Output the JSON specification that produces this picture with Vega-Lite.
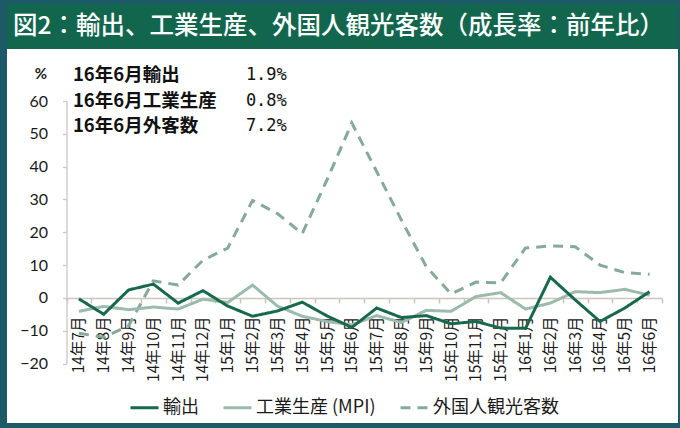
{
  "$schema": "https://vega.github.io/schema/vega-lite/v6.json",
  "background": "#1c5a68",
  "padding": {"left": 0, "top": 4, "right": 5, "bottom": 5},
  "spacing": 0,
  "config": {"view": {"stroke": null}},
  "resolve": {"legend": {"color": "independent", "strokeDash": "independent"}},
  "vconcat": [
    {
      "width": 671,
      "height": 45,
      "view": {"fill": "#13664e", "stroke": null},
      "data": {"values": [{"heading": "図2：輸出、工業生産、外国人観光客数（成長率：前年比）"}]},
      "mark": {"type": "text", "align": "left", "baseline": "middle", "dx": 6, "color": "white", "font": "Noto Sans CJK JP", "fontSize": 24.5, "fontWeight": 500},
      "encoding": {
        "x": {"datum": 0, "type": "quantitative", "scale": {"domain": [0, 1]}, "axis": null},
        "y": {"datum": 0.5, "type": "quantitative", "scale": {"domain": [0, 1]}, "axis": null},
        "text": {"field": "heading", "type": "nominal"}
      }
    },
    {
      "width": 671,
      "height": 374,
      "view": {"fill": "white", "stroke": null},
      "layer": [
        {
          "data": {
            "values": [
              {"month": "14年7月", "series": "外国人観光客数", "value": -10.8},
              {"month": "14年8月", "series": "外国人観光客数", "value": -12},
              {"month": "14年9月", "series": "外国人観光客数", "value": -8.5},
              {"month": "14年10月", "series": "外国人観光客数", "value": 5.2},
              {"month": "14年11月", "series": "外国人観光客数", "value": 3.9},
              {"month": "14年12月", "series": "外国人観光客数", "value": 11.5},
              {"month": "15年1月", "series": "外国人観光客数", "value": 15.2},
              {"month": "15年2月", "series": "外国人観光客数", "value": 29.7},
              {"month": "15年3月", "series": "外国人観光客数", "value": 25.7},
              {"month": "15年4月", "series": "外国人観光客数", "value": 19.6},
              {"month": "15年5月", "series": "外国人観光客数", "value": 36},
              {"month": "15年6月", "series": "外国人観光客数", "value": 53.3},
              {"month": "15年7月", "series": "外国人観光客数", "value": 38.5},
              {"month": "15年8月", "series": "外国人観光客数", "value": 23.7},
              {"month": "15年9月", "series": "外国人観光客数", "value": 9.5},
              {"month": "15年10月", "series": "外国人観光客数", "value": 1.2},
              {"month": "15年11月", "series": "外国人観光客数", "value": 4.8},
              {"month": "15年12月", "series": "外国人観光客数", "value": 4.6},
              {"month": "16年1月", "series": "外国人観光客数", "value": 15.2},
              {"month": "16年2月", "series": "外国人観光客数", "value": 15.8},
              {"month": "16年3月", "series": "外国人観光客数", "value": 15.6},
              {"month": "16年4月", "series": "外国人観光客数", "value": 10},
              {"month": "16年5月", "series": "外国人観光客数", "value": 7.7},
              {"month": "16年6月", "series": "外国人観光客数", "value": 7.2},
              {"month": "14年7月", "series": "工業生産 (MPI)", "value": -4.1},
              {"month": "14年8月", "series": "工業生産 (MPI)", "value": -2.6},
              {"month": "14年9月", "series": "工業生産 (MPI)", "value": -3.6},
              {"month": "14年10月", "series": "工業生産 (MPI)", "value": -2.8},
              {"month": "14年11月", "series": "工業生産 (MPI)", "value": -3.4},
              {"month": "14年12月", "series": "工業生産 (MPI)", "value": -0.4},
              {"month": "15年1月", "series": "工業生産 (MPI)", "value": -1.4},
              {"month": "15年2月", "series": "工業生産 (MPI)", "value": 3.9},
              {"month": "15年3月", "series": "工業生産 (MPI)", "value": -2.5},
              {"month": "15年4月", "series": "工業生産 (MPI)", "value": -5.6},
              {"month": "15年5月", "series": "工業生産 (MPI)", "value": -7.2},
              {"month": "15年6月", "series": "工業生産 (MPI)", "value": -8.2},
              {"month": "15年7月", "series": "工業生産 (MPI)", "value": -5.4},
              {"month": "15年8月", "series": "工業生産 (MPI)", "value": -7.5},
              {"month": "15年9月", "series": "工業生産 (MPI)", "value": -3.8},
              {"month": "15年10月", "series": "工業生産 (MPI)", "value": -4.1},
              {"month": "15年11月", "series": "工業生産 (MPI)", "value": 0.4},
              {"month": "15年12月", "series": "工業生産 (MPI)", "value": 1.6},
              {"month": "16年1月", "series": "工業生産 (MPI)", "value": -3.4},
              {"month": "16年2月", "series": "工業生産 (MPI)", "value": -1.6},
              {"month": "16年3月", "series": "工業生産 (MPI)", "value": 1.9},
              {"month": "16年4月", "series": "工業生産 (MPI)", "value": 1.6},
              {"month": "16年5月", "series": "工業生産 (MPI)", "value": 2.6},
              {"month": "16年6月", "series": "工業生産 (MPI)", "value": 0.8},
              {"month": "14年7月", "series": "輸出", "value": -0.3},
              {"month": "14年8月", "series": "輸出", "value": -5},
              {"month": "14年9月", "series": "輸出", "value": 2.4},
              {"month": "14年10月", "series": "輸出", "value": 4.2},
              {"month": "14年11月", "series": "輸出", "value": -1.6},
              {"month": "14年12月", "series": "輸出", "value": 2.2},
              {"month": "15年1月", "series": "輸出", "value": -2.5},
              {"month": "15年2月", "series": "輸出", "value": -5.6},
              {"month": "15年3月", "series": "輸出", "value": -4},
              {"month": "15年4月", "series": "輸出", "value": -1.3},
              {"month": "15年5月", "series": "輸出", "value": -5.5},
              {"month": "15年6月", "series": "輸出", "value": -9},
              {"month": "15年7月", "series": "輸出", "value": -3.1},
              {"month": "15年8月", "series": "輸出", "value": -6},
              {"month": "15年9月", "series": "輸出", "value": -5.4},
              {"month": "15年10月", "series": "輸出", "value": -7.9},
              {"month": "15年11月", "series": "輸出", "value": -7.2},
              {"month": "15年12月", "series": "輸出", "value": -9.2},
              {"month": "16年1月", "series": "輸出", "value": -9.3},
              {"month": "16年2月", "series": "輸出", "value": 6.3},
              {"month": "16年3月", "series": "輸出", "value": -0.6},
              {"month": "16年4月", "series": "輸出", "value": -7.2},
              {"month": "16年5月", "series": "輸出", "value": -3.1},
              {"month": "16年6月", "series": "輸出", "value": 1.9}
            ]
          },
          "mark": {"type": "line", "strokeWidth": 3},
          "encoding": {
            "x": {
              "field": "month",
              "type": "nominal",
              "bandPosition": 0.5,
              "scale": {
                "type": "band",
                "domain": ["14年7月", "14年8月", "14年9月", "14年10月", "14年11月", "14年12月", "15年1月", "15年2月", "15年3月", "15年4月", "15年5月", "15年6月", "15年7月", "15年8月", "15年9月", "15年10月", "15年11月", "15年12月", "16年1月", "16年2月", "16年3月", "16年4月", "16年5月", "16年6月"],
                "range": [59.5, 655],
                "paddingInner": 0,
                "paddingOuter": 0
              },
              "axis": {
                "orient": "bottom",
                "offset": -125,
                "title": null,
                "labelAngle": -90,
                "labelAlign": "right",
                "labelBaseline": "middle",
                "labelPadding": 13,
                "labelFont": "Noto Sans CJK JP",
                "labelFontSize": 15.5,
                "labelColor": "#1a1a1a",
                "labelOverlap": false,
                "domainColor": "#cdc5bd",
                "domainWidth": 1.5,
                "tickColor": "#cdc5bd",
                "tickWidth": 1.5,
                "tickSize": 5,
                "tickBand": "extent",
                "zindex": 0
              }
            },
            "y": {
              "field": "value",
              "type": "quantitative",
              "scale": {"domain": [-20, 60], "range": [314.5, 52], "nice": false, "zero": false},
              "axis": {
                "orient": "left",
                "offset": -59.5,
                "values": [-20, -10, 0, 10, 20, 30, 40, 50, 60],
                "grid": false,
                "domainColor": "#c8c8c8",
                "domainWidth": 1.3,
                "tickColor": "#c8c8c8",
                "tickWidth": 1.3,
                "tickSize": 4,
                "labelFont": "Lato",
                "labelFontSize": 16,
                "labelColor": "#1a1a1a",
                "labelPadding": 15,
                "title": "%",
                "titleAngle": 0,
                "titleX": -26,
                "titleY": 24,
                "titleAlign": "center",
                "titleBaseline": "middle",
                "titleFont": "Lato",
                "titleFontSize": 15,
                "titleFontWeight": "bold",
                "titleColor": "#1a1a1a",
                "zindex": 0
              }
            },
            "color": {
              "field": "series",
              "type": "nominal",
              "scale": {
                "domain": ["輸出", "工業生産 (MPI)", "外国人観光客数"],
                "range": ["#17694e", "#9bbbac", "#85aa9a"]
              },
              "legend": {
                "orient": "none",
                "legendX": 122,
                "legendY": 343,
                "direction": "horizontal",
                "title": null,
                "symbolType": "stroke",
                "symbolSize": 784,
                "symbolStrokeWidth": 3,
                "labelFont": "Noto Sans CJK JP",
                "labelFontSize": 18,
                "labelColor": "#1a1a1a",
                "labelOffset": 3,
                "columnPadding": 18
              }
            },
            "strokeDash": {
              "field": "series",
              "type": "nominal",
              "scale": {
                "domain": ["輸出", "工業生産 (MPI)", "外国人観光客数"],
                "range": [[1, 0], [1, 0], [10, 7]]
              },
              "legend": {
                "orient": "none",
                "legendX": 122,
                "legendY": 343,
                "direction": "horizontal",
                "title": null,
                "symbolType": "stroke",
                "symbolSize": 784,
                "symbolStrokeWidth": 3,
                "labelFont": "Noto Sans CJK JP",
                "labelFontSize": 18,
                "labelColor": "#1a1a1a",
                "labelOffset": 3,
                "columnPadding": 18
              }
            }
          }
        },
        {
          "data": {"values": [{"labels": "16年6月輸出\n16年6月工業生産\n16年6月外客数", "latest": "1.9%\n0.8%\n7.2%"}]},
          "mark": {"type": "text", "align": "left", "baseline": "middle", "lineBreak": "\n", "lineHeight": 25.5, "font": "Noto Sans CJK JP", "fontSize": 18.5, "fontWeight": "bold", "color": "#111111"},
          "encoding": {
            "x": {"datum": "14年7月", "type": "nominal", "bandPosition": 0.26},
            "y": {"datum": 67.9, "type": "quantitative"},
            "text": {"field": "labels", "type": "nominal"}
          }
        },
        {
          "data": {"values": [{"labels": "16年6月輸出\n16年6月工業生産\n16年6月外客数", "latest": "1.9%\n0.8%\n7.2%"}]},
          "mark": {"type": "text", "align": "right", "baseline": "middle", "lineBreak": "\n", "lineHeight": 25.5, "font": "DejaVu Sans Mono", "fontSize": 17, "color": "#111111"},
          "encoding": {
            "x": {"datum": "15年3月", "type": "nominal", "bandPosition": 0.88},
            "y": {"datum": 67.9, "type": "quantitative"},
            "text": {"field": "latest", "type": "nominal"}
          }
        }
      ]
    }
  ]
}
